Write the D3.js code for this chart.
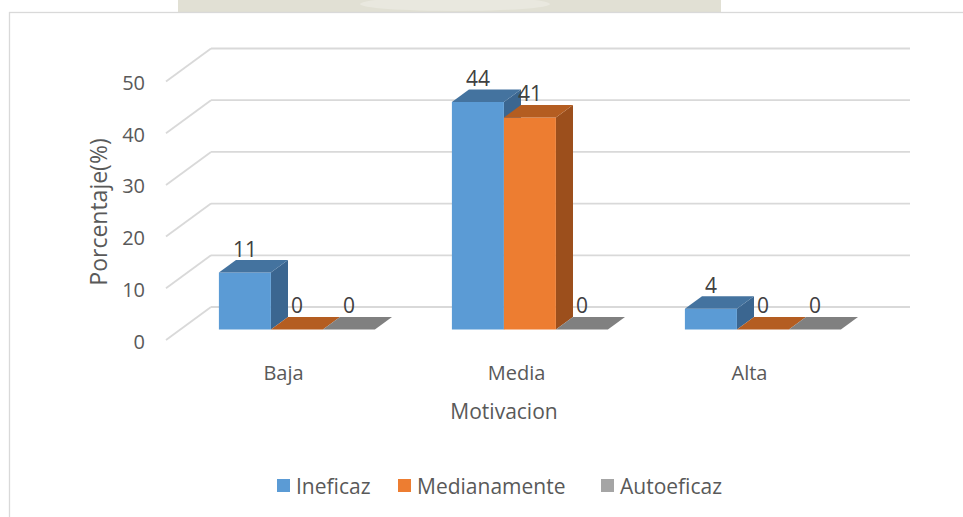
<!DOCTYPE html>
<html>
<head>
<meta charset="utf-8">
<script src="https://cdn.jsdelivr.net/npm/d3@7"></script>
<style>
  html, body { margin: 0; padding: 0; background: #fff; }
  svg { display: block; font-family: "Open Sans", "Noto Sans", sans-serif; }
</style>
</head>
<body>
<svg id="chart" width="963" height="517"></svg>
<script>
// ---- data ----
const categories = ["Baja", "Media", "Alta"];
const seriesNames = ["Ineficaz", "Medianamente", "Autoeficaz"];
const ineficaz = [11, 44, 4];
const medianamente = [0, 41, 0];
const autoeficaz = [0, 0, 0];
const yTicks = [0, 10, 20, 30, 40, 50];
const axisTitleY = "Porcentaje(%)";
const axisTitleX = "Motivacion";

const seriesValues = [ineficaz, medianamente, autoeficaz];
const colors = [
  { front: "#5B9BD5", top: "#44739F", side: "#3B6690", legend: "#5B9BD5" },
  { front: "#ED7D31", top: "#B45D21", side: "#9C4F1C", legend: "#ED7D31" },
  { front: "#A5A5A5", top: "#808080", side: "#6E6E6E", legend: "#A5A5A5" }
];

const svg = d3.select("#chart");

// watermark remnant at top (background band)
svg.append("rect").attr("x", 178).attr("y", 0).attr("width", 543).attr("height", 12)
  .attr("fill", "#E1E0D4");
svg.append("ellipse").attr("cx", 455).attr("cy", 4).attr("rx", 95).attr("ry", 7)
  .attr("fill", "#E9E8DF");

// chart border
svg.append("rect").attr("x", 9.5).attr("y", 12.5).attr("width", 970).attr("height", 520)
  .attr("fill", "#fff").attr("stroke", "#D9D9D9").attr("stroke-width", 1.3);

// ---- projection ----
const depthDX = 45, depthDY = -33;   // full floor depth (front -> back)
const x = d3.scaleBand().domain(categories).range([166, 865]);
const inner = d3.scaleBand().domain(seriesNames).range([0, 156]);
const groupOffset = (x.bandwidth() - 156) / 2;
const y = d3.scaleLinear().domain([0, 50]).range([340, 81.5]);
const P = (sx, v, z) => [sx + depthDX * z, y(v) + depthDY * z];

const g = svg.append("g");

// walls: gridlines, receding lines, tick labels
yTicks.forEach(t => {
  const a = P(x.range()[0], t, 1), b = P(x.range()[1], t, 1);
  g.append("line").attr("x1", a[0]).attr("y1", a[1]).attr("x2", b[0]).attr("y2", b[1])
    .attr("stroke", "#D9D9D9").attr("stroke-width", 1.8);
  const f = P(x.range()[0], t, 0);
  g.append("line").attr("x1", f[0]).attr("y1", f[1]).attr("x2", a[0]).attr("y2", a[1])
    .attr("stroke", "#D9D9D9").attr("stroke-width", 1.8);
  g.append("text").attr("x", 145).attr("y", f[1] + 1)
    .attr("text-anchor", "end").attr("dominant-baseline", "central")
    .attr("font-size", 20).attr("fill", "#595959").text(t);
});

// bars
const z0 = 0.32, z1 = 0.70;
const poly = pts => pts.map(p => p.join(",")).join(" ");
categories.forEach((c, ci) => {
  seriesNames.forEach((s, si) => {
    const v = seriesValues[si][ci];
    const xl = x(c) + groupOffset + inner(s);
    const xr = xl + inner.bandwidth();
    const col = colors[si];
    const bg = g.append("g");
    if (v > 0) {
      bg.append("polygon").attr("fill", col.side)
        .attr("points", poly([P(xr, 0, z0), P(xr, 0, z1), P(xr, v, z1), P(xr, v, z0)]));
      bg.append("polygon").attr("fill", col.front)
        .attr("points", poly([P(xl, 0, z0), P(xr, 0, z0), P(xr, v, z0), P(xl, v, z0)]));
    }
    bg.append("polygon").attr("fill", col.top)
      .attr("points", poly([P(xl, v, z0), P(xr, v, z0), P(xr, v, z1), P(xl, v, z1)]));
  });
});

// data labels
categories.forEach((c, ci) => {
  seriesNames.forEach((s, si) => {
    const v = seriesValues[si][ci];
    const xc = x(c) + groupOffset + inner(s) + inner.bandwidth() / 2;
    const front = P(xc, v, z0);
    const top = P(xc, v, z1);
    g.append("text").attr("x", front[0]).attr("y", top[1] - 11.5)
      .attr("text-anchor", "middle").attr("dominant-baseline", "central")
      .attr("font-size", 21).attr("fill", "#404040").text(v);
  });
});

// category labels
categories.forEach(c => {
  g.append("text").attr("x", x(c) + x.bandwidth() / 2 + 1).attr("y", 372)
    .attr("text-anchor", "middle").attr("dominant-baseline", "central")
    .attr("font-size", 20).attr("fill", "#595959").text(c);
});

// axis titles
svg.append("text").attr("x", 504).attr("y", 411)
  .attr("text-anchor", "middle").attr("dominant-baseline", "central")
  .attr("font-size", 21).attr("fill", "#595959").text(axisTitleX);
svg.append("text").attr("transform", "translate(98,212) rotate(-90)")
  .attr("text-anchor", "middle").attr("dominant-baseline", "central")
  .attr("font-size", 23).attr("fill", "#595959").text(axisTitleY);

// legend
const legendX = [277, 398, 601];
seriesNames.forEach((s, i) => {
  svg.append("rect").attr("x", legendX[i]).attr("y", 479).attr("width", 13).attr("height", 13)
    .attr("fill", colors[i].legend);
  svg.append("text").attr("x", legendX[i] + 19).attr("y", 486)
    .attr("dominant-baseline", "central").attr("font-size", 21).attr("fill", "#595959").text(s);
});
</script>
</body>
</html>
